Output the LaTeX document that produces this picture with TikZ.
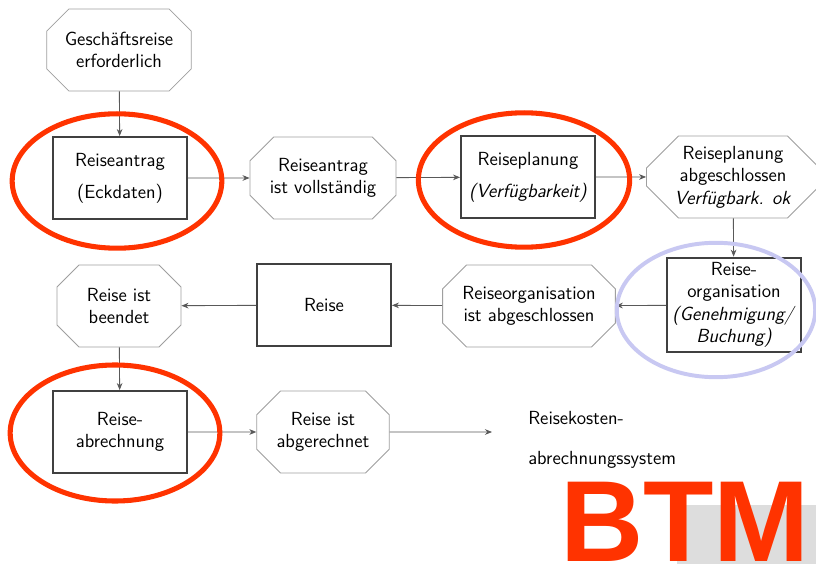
\documentclass[tikz,border=0pt]{standalone}
\usepackage{fontspec}
\newfontfamily\btmfont{Liberation Sans}
\usetikzlibrary{shapes.misc,arrows.meta}

\definecolor{btmred}{HTML}{FF3300}
\definecolor{lavender}{HTML}{C8C8F2}
\definecolor{panelgrey}{HTML}{DDDDDD}

\tikzset{
  event/.style={chamfered rectangle, chamfered rectangle xsep=0.7cm,
    draw=gray!75, line width=0.6pt, minimum width=3.1cm,
    minimum height=2.05cm, inner sep=0pt, align=center},
  task/.style={rectangle, draw=black!75, line width=1.3pt,
    minimum width=3.35cm, minimum height=2.05cm, align=center},
  flow/.style={draw=black!65, line width=0.6pt,
    -{Stealth[length=5pt,width=4pt]}},
  hilite/.style={draw=btmred, line width=3.6pt},
  hiliteblue/.style={draw=lavender, line width=2.8pt}
}

\begin{document}
\begin{tikzpicture}
  [x=0.025cm,y=-0.025cm,font=\fontsize{13.5}{16}\selectfont\sffamily]
  \useasboundingbox[fill=white] (0,0) rectangle (816,564);

  % first row
  \node[event] (start) at (119,50)  {Geschäftsreise\\erforderlich};
  \node[task]  (antrag) at (120,178) {Reiseantrag\\[7pt](Eckdaten)};
  \node[event] (antragok) at (323,178) {Reiseantrag\\ist vollständig};
  \node[task]  (planung) at (528,177) {Reiseplanung\\[7pt]\textit{(Verfügbarkeit)}};
  \node[event] (planungok) at (733,177)
    {Reiseplanung\\abgeschlossen\\\textit{Verfügbark. ok}};

  % second row
  \node[task]  (orga) at (734,305)
    {Reise-\\organisation\\\textit{(Genehmigung/}\\\textit{Buchung)}};
  \node[event] (orgaok) at (529,306) {Reiseorganisation\\ist abgeschlossen};
  \node[task]  (reise) at (324,305) {Reise};
  \node[event] (reiseok) at (119,306) {Reise ist\\beendet};

  % third row
  \node[task]  (abr) at (120,432) {Reise-\\abrechnung};
  \node[event] (abrok) at (323,432) {Reise ist\\abgerechnet};
  \coordinate (sink) at (492,432);
  \node[anchor=west, align=left, inner sep=0pt] (system) at (528,440)
    {Reisekosten-\\[12pt]abrechnungssystem};

  \foreach \from/\to in {start/antrag,antrag/antragok,antragok/planung,
      planung/planungok,planungok/orga,orga/orgaok,orgaok/reise,
      reise/reiseok,reiseok/abr,abr/abrok,abrok/sink}
    \draw[flow] (\from) -- (\to);

  % highlights
  \draw[hilite] (117,181) ellipse [x radius=2.62cm, y radius=1.68cm];
  \draw[hilite] (524,180) ellipse [x radius=2.64cm, y radius=1.68cm];
  \draw[hilite] (115,433) ellipse [x radius=2.62cm, y radius=1.7cm];
  \draw[hiliteblue] (716,310) ellipse [x radius=2.48cm, y radius=1.68cm];

  \fill[panelgrey] (677,505) rectangle (816,564);
  \node[anchor=south west, inner sep=0pt, text=btmred,
    font=\fontsize{82}{82}\selectfont\btmfont\bfseries] (btm) at (560,562) {BTM};
\end{tikzpicture}
\end{document}
